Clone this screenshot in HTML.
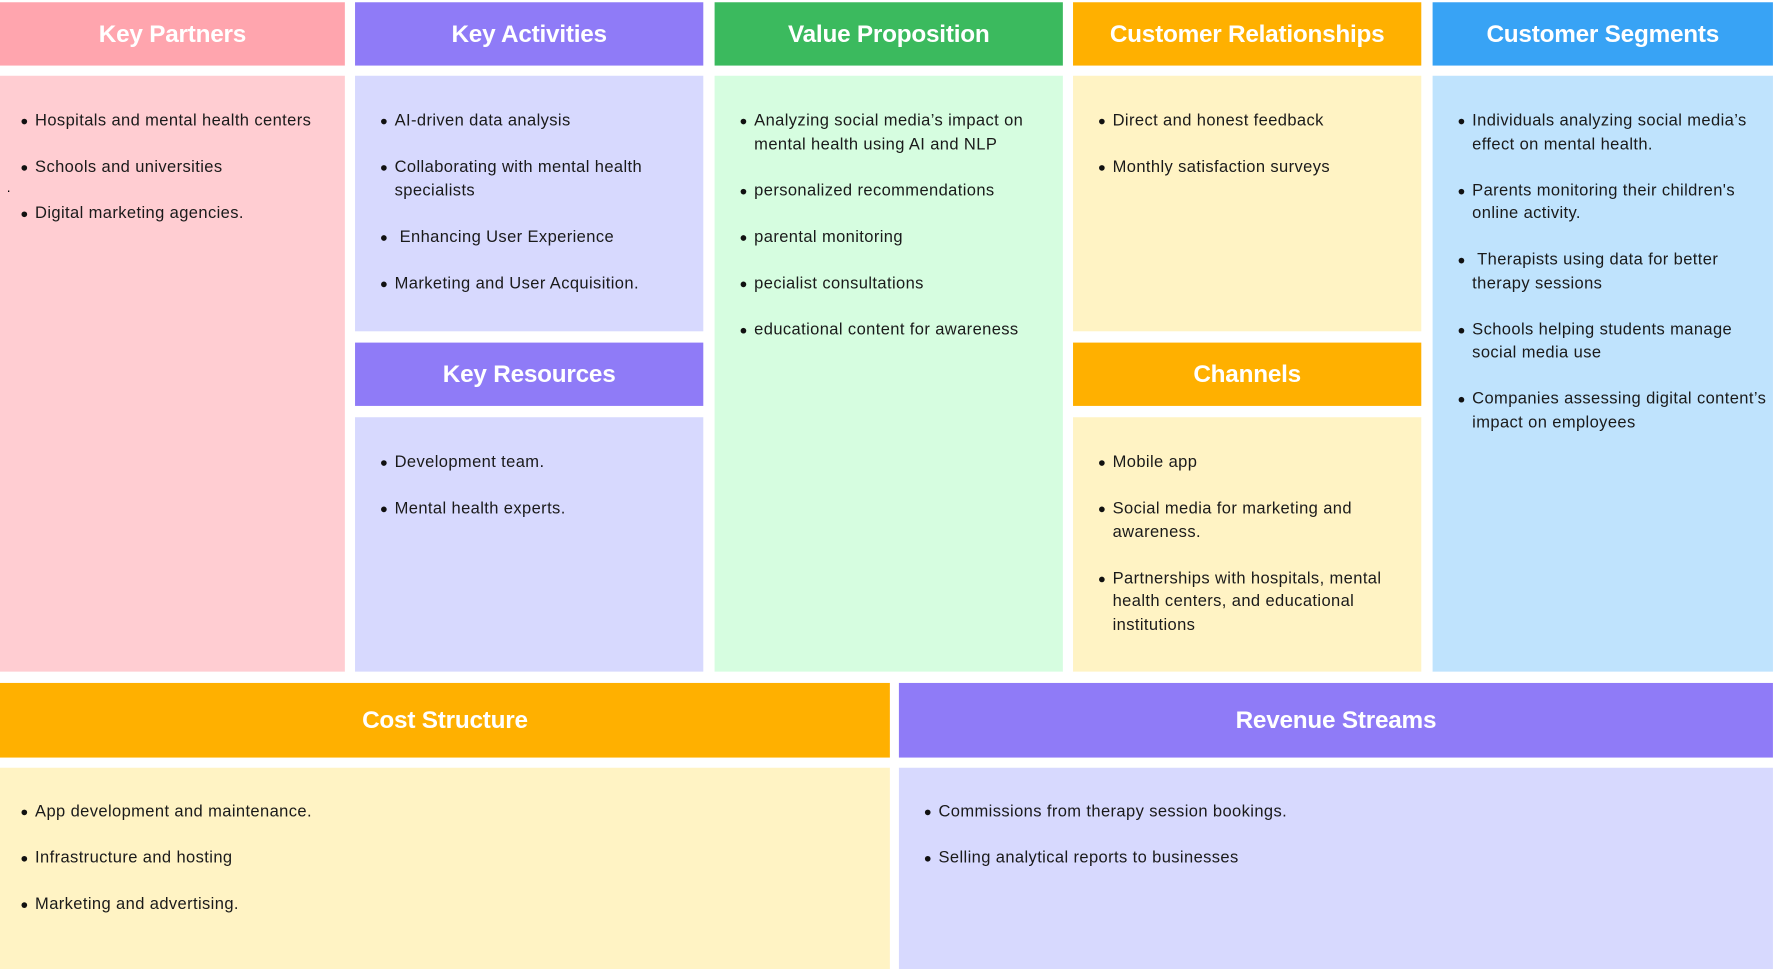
<!DOCTYPE html>
<html><head><meta charset="utf-8"><style>
html,body{margin:0;padding:0;background:#fff;}
body{width:1773px;height:969px;overflow:hidden;}
#w{position:absolute;left:0;top:0;width:1568px;height:857px;transform:scale(1.1307);transform-origin:0 0;font-family:"Liberation Sans",sans-serif;}
.b{position:absolute;box-sizing:border-box;}
.h{color:#fff;font-weight:bold;font-size:21.5px;display:flex;align-items:center;justify-content:center;letter-spacing:-0.2px;}
ul{margin:0;padding:30px 0 0 31px;list-style:none;}
li{position:relative;font-size:14.6px;line-height:20.5px;color:#1a1a1a;margin-bottom:20.5px;padding-right:4px;letter-spacing:0.35px;}
li:before{content:"";position:absolute;left:-12px;top:8px;width:5px;height:5px;border-radius:50%;background:#111;}
.pkh{background:#ffa5ae}.pk{background:#ffcdd2}
.puh{background:#8f7bf7}.pu{background:#d7d9fe}
.grh{background:#3bba5e}.gr{background:#d6fde0}
.orh{background:#ffb000}.or{background:#fff3c4}
.blh{background:#38a3f5}.bl{background:#bfe3fd}
</style></head><body><div id="w">
<div class="b h pkh" style="left:0;top:2px;width:305px;height:56px">Key Partners</div>
<div class="b pk" style="left:0;top:67px;width:305px;height:527px"><ul><li>Hospitals and mental health centers</li><li>Schools and universities</li><li>Digital marketing agencies.</li></ul><span style="position:absolute;left:6px;top:92px;font-size:12px">.</span></div>

<div class="b h puh" style="left:314px;top:2px;width:308px;height:56px">Key Activities</div>
<div class="b pu" style="left:314px;top:67px;width:308px;height:226px"><ul style="padding-left:35px"><li>AI-driven data analysis</li><li>Collaborating with mental health specialists</li><li>&nbsp;Enhancing User Experience</li><li>Marketing and User Acquisition.</li></ul></div>
<div class="b h puh" style="left:314px;top:303px;width:308px;height:56px">Key Resources</div>
<div class="b pu" style="left:314px;top:369px;width:308px;height:225px"><ul style="padding-left:35px"><li>Development team.</li><li>Mental health experts.</li></ul></div>

<div class="b h grh" style="left:632px;top:2px;width:308px;height:56px">Value Proposition</div>
<div class="b gr" style="left:632px;top:67px;width:308px;height:527px"><ul style="padding-left:35px"><li>Analyzing social media’s impact on mental health using AI and NLP</li><li>personalized recommendations</li><li>parental monitoring</li><li>pecialist consultations</li><li>educational content for awareness</li></ul></div>

<div class="b h orh" style="left:949px;top:2px;width:308px;height:56px">Customer Relationships</div>
<div class="b or" style="left:949px;top:67px;width:308px;height:226px"><ul style="padding-left:35px"><li>Direct and honest feedback</li><li>Monthly satisfaction surveys</li></ul></div>
<div class="b h orh" style="left:949px;top:303px;width:308px;height:56px">Channels</div>
<div class="b or" style="left:949px;top:369px;width:308px;height:225px"><ul style="padding-left:35px"><li>Mobile app</li><li>Social media for marketing and awareness.</li><li>Partnerships with hospitals, mental health centers, and educational institutions</li></ul></div>

<div class="b h blh" style="left:1267px;top:2px;width:301px;height:56px">Customer Segments</div>
<div class="b bl" style="left:1267px;top:67px;width:301px;height:527px"><ul style="padding-left:35px"><li>Individuals analyzing social media’s effect on mental health.</li><li>Parents monitoring their children's online activity.</li><li>&nbsp;Therapists using data for better therapy sessions</li><li>Schools helping students manage social media use</li><li>Companies assessing digital content’s impact on employees</li></ul></div>

<div class="b h orh" style="left:0;top:604px;width:787px;height:66px">Cost Structure</div>
<div class="b or" style="left:0;top:679px;width:787px;height:178px"><ul style="padding-top:29px"><li>App development and maintenance.</li><li>Infrastructure and hosting</li><li>Marketing and advertising.</li></ul></div>

<div class="b h puh" style="left:795px;top:604px;width:773px;height:66px">Revenue Streams</div>
<div class="b pu" style="left:795px;top:679px;width:773px;height:178px"><ul style="padding-top:29px;padding-left:35px"><li>Commissions from therapy session bookings.</li><li>Selling analytical reports to businesses</li></ul></div>
</div></body></html>
